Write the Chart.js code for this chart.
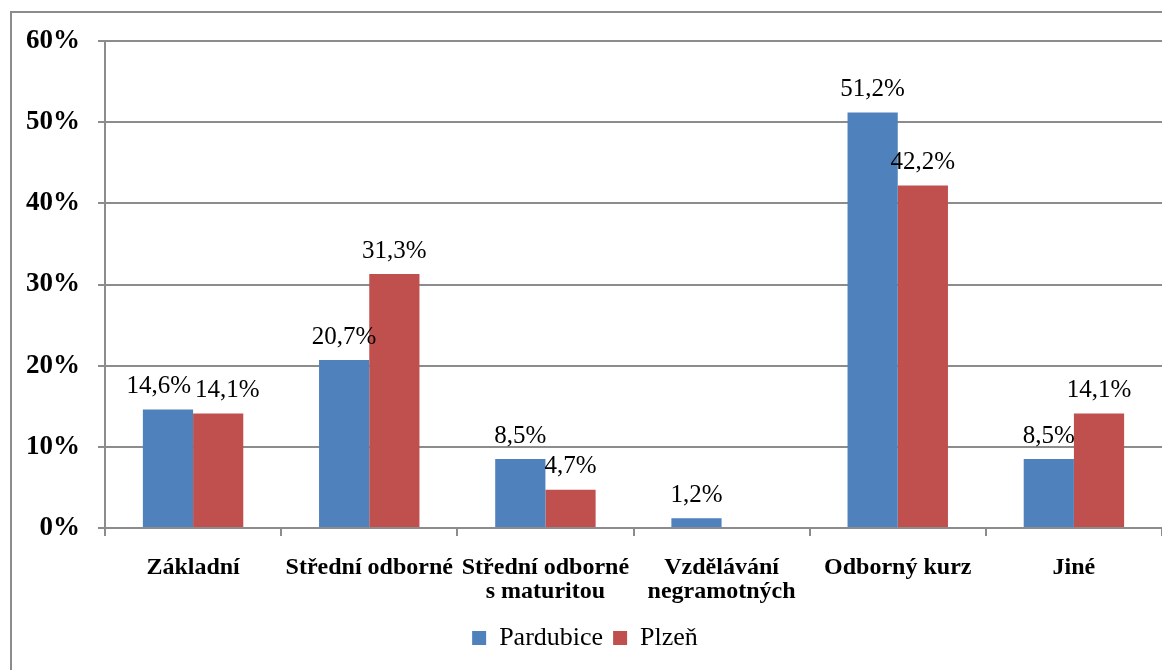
<!DOCTYPE html>
<html>
<head>
<meta charset="utf-8">
<script src="https://cdn.jsdelivr.net/npm/chart.js@4"></script>
<style>
  body { margin: 0; background: #fff; }
  canvas { display: block; }
</style>
</head>
<body>
<canvas id="eduChart" width="1162" height="670"></canvas>
<script>
const categories = [
    'Základní',
    'Střední odborné',
    ['Střední odborné', 's maturitou'],
    ['Vzdělávání', 'negramotných'],
    'Odborný kurz',
    'Jiné'
];
const pardubice = [14.6, 20.7, 8.5, 1.2, 51.2, 8.5];
const plzen = [14.1, 31.3, 4.7, null, 42.2, 14.1];
const yTicks = [0, 10, 20, 30, 40, 50, 60];

const gridGray = '#8c8c8c';
const serif = "'Liberation Serif', 'Times New Roman', serif";

function fmt(v) {
    return v.toFixed(1).replace('.', ',') + '%';
}

// frame round the chart, it runs off the right and bottom edge
const framePlugin = {
    id: 'frame',
    beforeDraw(chart) {
        const ctx = chart.ctx;
        ctx.save();
        ctx.fillStyle = '#fff';
        ctx.fillRect(0, 0, chart.width, chart.height);
        ctx.strokeStyle = gridGray;
        ctx.lineWidth = 2;
        ctx.beginPath();
        ctx.moveTo(11, chart.height + 5);
        ctx.lineTo(11, 12);
        ctx.lineTo(chart.width + 5, 12);
        ctx.stroke();
        ctx.restore();
    }
};

// value labels above the bars, pushed apart when they collide
const valueLabels = {
    id: 'valueLabels',
    afterDatasetsDraw(chart) {
        const ctx = chart.ctx;
        ctx.save();
        ctx.font = '25px ' + serif;
        ctx.fillStyle = '#000';
        ctx.textAlign = 'center';
        ctx.textBaseline = 'middle';
        const boxes = [];
        chart.data.datasets.forEach((ds, di) => {
            const meta = chart.getDatasetMeta(di);
            meta.data.forEach((bar, i) => {
                const v = ds.data[i];
                if (v === null || v === undefined) return;
                const text = fmt(v);
                const w = ctx.measureText(text).width;
                boxes.push({ i, di, text, w, x: bar.x, y: bar.y - 23 });
            });
        });
        categories.forEach((c, i) => {
            const inCat = boxes.filter(b => b.i === i);
            if (inCat.length < 2) return;
            const a = inCat[0], b = inCat[1];
            const overlapX = (a.w + b.w) / 2 + 4 - (b.x - a.x);
            const overlapY = Math.abs(a.y - b.y) < 26;
            if (overlapX > 0 && overlapY) {
                a.x -= overlapX / 2;
                b.x += overlapX / 2;
            }
        });
        boxes.forEach(b => ctx.fillText(b.text, b.x, b.y));
        ctx.restore();
    }
};

new Chart(document.getElementById('eduChart'), {
    type: 'bar',
    data: {
        labels: categories,
        datasets: [{
            label: 'Pardubice',
            data: pardubice,
            backgroundColor: '#4F81BD',
            borderWidth: 0,
            categoryPercentage: 0.57,
            barPercentage: 1.0
        }, {
            label: 'Plzeň',
            data: plzen,
            backgroundColor: '#C0504D',
            borderWidth: 0,
            categoryPercentage: 0.57,
            barPercentage: 1.0
        }]
    },
    options: {
        responsive: false,
        animation: false,
        layout: {
            padding: { left: 8, top: 41, right: 0, bottom: 9 }
        },
        plugins: {
            legend: {
                position: 'bottom',
                labels: {
                    boxWidth: 14,
                    boxHeight: 14,
                    color: '#000',
                    padding: 10,
                    font: { family: serif, size: 26 }
                }
            },
            tooltip: { enabled: false }
        },
        scales: {
            x: {
                afterFit(scale) {
                    scale.height = 87;
                },
                grid: {
                    offset: true,
                    drawOnChartArea: false,
                    drawTicks: true,
                    tickLength: 8,
                    color: gridGray,
                    lineWidth: 2
                },
                border: { color: gridGray, width: 2 },
                ticks: {
                    color: '#000',
                    padding: 20,
                    maxRotation: 0,
                    autoSkip: false,
                    font: { family: serif, size: 24, weight: 'bold', lineHeight: 1.0 }
                }
            },
            y: {
                min: 0,
                max: 60,
                afterBuildTicks(axis) {
                    axis.ticks = yTicks.map(v => ({ value: v }));
                },
                grid: {
                    color: gridGray,
                    lineWidth: 2,
                    tickLength: 7
                },
                border: { color: gridGray, width: 2 },
                ticks: {
                    color: '#000',
                    padding: 18,
                    callback: v => v + '%',
                    font: { family: serif, size: 27, weight: 'bold' }
                }
            }
        }
    },
    plugins: [framePlugin, valueLabels]
});
</script>
</body>
</html>
